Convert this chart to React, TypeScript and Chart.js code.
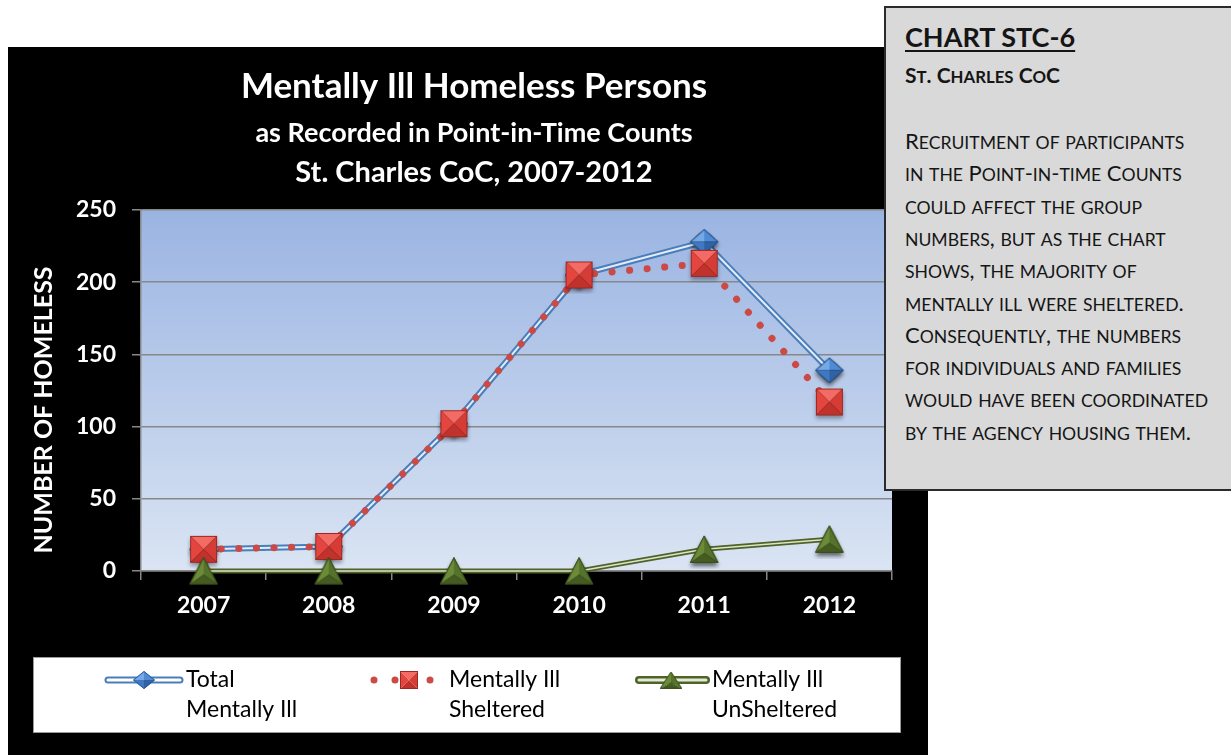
import React, { useEffect, useRef } from "react";
import { Chart, registerables } from "chart.js";

Chart.register(...registerables);

// ---------- DATA ----------
const categories = ["2007", "2008", "2009", "2010", "2011", "2012"];
const totalMentallyIll = [15, 17, 102, 205, 228, 139];
const shelteredMentallyIll = [15, 17, 102, 205, 213, 117];
const unshelteredMentallyIll = [0, 0, 0, 0, 15, 22];
const yMin = 0;
const yMax = 250;
const yStep = 50;

const titleLines = [
  "Mentally Ill Homeless Persons",
  "as Recorded in Point-in-Time Counts",
  "St. Charles CoC, 2007-2012",
];
const yAxisTitle = "NUMBER OF HOMELESS";
const legendTotal = ["Total", "Mentally Ill"];
const legendSheltered = ["Mentally Ill", "Sheltered"];
const legendUnsheltered = ["Mentally Ill", "UnSheltered"];

const boxHeading = "CHART STC-6";
const boxSubheading = "St. Charles CoC";
const boxBodyLines = [
  "Recruitment of participants",
  "in the Point-in-time Counts",
  "could affect the group",
  "numbers, but as the chart",
  "shows, the majority of",
  "mentally ill were sheltered.",
  "Consequently, the numbers",
  "for individuals and families",
  "would have been coordinated",
  "by the agency housing them.",
];

const FONT = "Lato, 'Open Sans', sans-serif";

// ---------- MARKER IMAGES ----------
type P = [number, number];
const PAD = 6;
function tri(g: CanvasRenderingContext2D, a: P, b: P, c: P, color: string) {
  g.beginPath();
  g.moveTo(a[0], a[1]);
  g.lineTo(b[0], b[1]);
  g.lineTo(c[0], c[1]);
  g.closePath();
  g.fillStyle = color;
  g.fill();
}

function withShadow(w: number, h: number, shadow: boolean, draw: (g: CanvasRenderingContext2D) => void, outline: (g: CanvasRenderingContext2D) => void) {
  const p = shadow ? PAD : 0;
  const c = document.createElement("canvas");
  c.width = w + 2 * p;
  c.height = h + 2 * p;
  const g = c.getContext("2d")!;
  g.translate(p, p);
  if (shadow) {
    g.save();
    g.shadowColor = "rgba(0,0,0,0.35)";
    g.shadowBlur = 4;
    g.shadowOffsetY = 3;
    g.fillStyle = "#000";
    outline(g);
    g.fill();
    g.restore();
  }
  draw(g);
  return c;
}

function makeSquare(s: number, shadow = true) {
  const m = s / 2;
  const outline = (g: CanvasRenderingContext2D) => {
    g.beginPath();
    g.rect(0, 0, s, s);
  };
  return withShadow(s, s, shadow, (g) => {
    tri(g, [0, 0], [s, 0], [m, m], "#f36b64");
    tri(g, [0, 0], [0, s], [m, m], "#e4463f");
    tri(g, [s, 0], [s, s], [m, m], "#d63c36");
    tri(g, [0, s], [s, s], [m, m], "#c2322d");
    g.strokeStyle = "#9a2824";
    g.lineWidth = 1;
    g.strokeRect(0.5, 0.5, s - 1, s - 1);
  }, outline);
}

function makeDiamond(w: number, h: number, shadow = true) {
  const mx = w / 2;
  const my = h / 2;
  const outline = (g: CanvasRenderingContext2D) => {
    g.beginPath();
    g.moveTo(0, my);
    g.lineTo(mx, 0);
    g.lineTo(w, my);
    g.lineTo(mx, h);
    g.closePath();
  };
  return withShadow(w, h, shadow, (g) => {
    tri(g, [0, my], [mx, 0], [mx, my], "#74a8e6");
    tri(g, [mx, 0], [w, my], [mx, my], "#4f8bd4");
    tri(g, [0, my], [mx, h], [mx, my], "#3f79c3");
    tri(g, [w, my], [mx, h], [mx, my], "#2f63a6");
    g.beginPath();
    g.moveTo(0.5, my);
    g.lineTo(mx, 0.5);
    g.lineTo(w - 0.5, my);
    g.lineTo(mx, h - 0.5);
    g.closePath();
    g.strokeStyle = "#2c5a94";
    g.lineWidth = 1;
    g.stroke();
  }, outline);
}

function makeTriangle(w: number, h: number, shadow = true) {
  const m = w / 2;
  const cy = h * 0.64;
  const outline = (g: CanvasRenderingContext2D) => {
    g.beginPath();
    g.moveTo(m, 0);
    g.lineTo(w, h);
    g.lineTo(0, h);
    g.closePath();
  };
  return withShadow(w, h, shadow, (g) => {
    tri(g, [m, 0], [0, h], [m, cy], "#6b8b39");
    tri(g, [m, 0], [w, h], [m, cy], "#56732b");
    tri(g, [0, h], [w, h], [m, cy], "#445b21");
    g.beginPath();
    g.moveTo(m, 0.5);
    g.lineTo(w - 0.5, h - 0.5);
    g.lineTo(0.5, h - 0.5);
    g.closePath();
    g.strokeStyle = "#3b4f1c";
    g.lineWidth = 1;
    g.stroke();
  }, outline);
}

// ---------- PLUGINS ----------
function makeDecorPlugin(imgs: { diamond: HTMLCanvasElement; square: HTMLCanvasElement; triangle: HTMLCanvasElement }) {
  return {
    id: "decor",
    beforeDraw(chart: any) {
      const ctx = chart.ctx as CanvasRenderingContext2D;
      const a = chart.chartArea;
      ctx.save();
      ctx.fillStyle = "#000";
      ctx.fillRect(8, 47, 920, 720);
      const grad = ctx.createLinearGradient(0, a.top, 0, a.bottom);
      grad.addColorStop(0, "#9ab4e2");
      grad.addColorStop(1, "#dae4f3");
      ctx.fillStyle = grad;
      ctx.fillRect(a.left, a.top, a.right - a.left, a.bottom - a.top);
      ctx.restore();
    },
    afterDraw(chart: any) {
      const ctx = chart.ctx as CanvasRenderingContext2D;
      ctx.save();
      // titles
      ctx.fillStyle = "#fff";
      ctx.textAlign = "center";
      ctx.textBaseline = "middle";
      const cx = 474;
      ctx.font = `bold 35px ${FONT}`;
      ctx.fillText(titleLines[0], cx, 87);
      ctx.font = `bold 27px ${FONT}`;
      ctx.fillText(titleLines[1], cx, 133);
      ctx.font = `bold 29px ${FONT}`;
      ctx.fillText(titleLines[2], cx, 173);

      // y axis title
      ctx.save();
      ctx.translate(44, 410);
      ctx.rotate(-Math.PI / 2);
      ctx.font = `bold 25px ${FONT}`;
      ctx.fillText(yAxisTitle, 0, 0);
      ctx.restore();

      // legend box
      ctx.fillStyle = "#fff";
      ctx.fillRect(33, 657, 868, 76);
      ctx.strokeStyle = "#9a9a9a";
      ctx.lineWidth = 1;
      ctx.strokeRect(33.5, 657.5, 867, 75);

      const ds = chart.data.datasets;
      const ly = 680;
      // total sample
      ctx.lineCap = "round";
      ctx.strokeStyle = ds[2].borderColor;
      ctx.lineWidth = 7;
      ctx.beginPath();
      ctx.moveTo(108, ly);
      ctx.lineTo(180, ly);
      ctx.stroke();
      ctx.strokeStyle = "#ffffff";
      ctx.lineWidth = 3;
      ctx.stroke();
      ctx.drawImage(imgs.diamond, 144 - imgs.diamond.width / 2, ly - imgs.diamond.height / 2);
      // sheltered sample
      ctx.fillStyle = ds[1].borderColor;
      [374, 395, 430].forEach((x) => {
        ctx.beginPath();
        ctx.arc(x, ly, 3.5, 0, Math.PI * 2);
        ctx.fill();
      });
      ctx.drawImage(imgs.square, 409 - imgs.square.width / 2, ly - imgs.square.height / 2);
      // unsheltered sample
      ctx.strokeStyle = ds[0].borderColor;
      ctx.lineWidth = 8;
      ctx.beginPath();
      ctx.moveTo(639, ly);
      ctx.lineTo(706, ly);
      ctx.stroke();
      ctx.strokeStyle = "#e4ead8";
      ctx.lineWidth = 3;
      ctx.stroke();
      ctx.drawImage(imgs.triangle, 671 - imgs.triangle.width / 2, ly - imgs.triangle.height / 2);

      // legend texts
      ctx.fillStyle = "#000";
      ctx.textAlign = "left";
      ctx.font = `23px ${FONT}`;
      const texts: [string[], number][] = [
        [legendTotal, 186],
        [legendSheltered, 449],
        [legendUnsheltered, 712],
      ];
      texts.forEach(([lines, x]) => {
        ctx.fillText(lines[0], x, 680);
        ctx.fillText(lines[1], x, 710);
      });
      ctx.restore();
    },
  };
}

const compoundPlugin = {
  id: "compound",
  afterDatasetDraw(chart: any, args: any) {
    const ds = chart.data.datasets[args.index];
    if (!ds.innerColor) return;
    const meta = args.meta;
    const ctx = chart.ctx as CanvasRenderingContext2D;
    ctx.save();
    ctx.beginPath();
    meta.data.forEach((pt: any, i: number) => {
      if (i === 0) ctx.moveTo(pt.x, pt.y);
      else ctx.lineTo(pt.x, pt.y);
    });
    ctx.strokeStyle = ds.innerColor;
    ctx.lineWidth = ds.innerWidth;
    ctx.lineJoin = "round";
    ctx.stroke();
    ctx.restore();
    meta.data.forEach((pt: any) => pt.draw(ctx, chart.chartArea));
  },
};

// small caps like a word processor: lowercase letters shown as capitals at 80%
function SmallCaps({ text, size }: { text: string; size: number }) {
  const parts: { t: string; small: boolean }[] = [];
  for (const ch of text) {
    const small = ch !== ch.toUpperCase();
    const last = parts[parts.length - 1];
    if (last && last.small === small) last.t += ch;
    else parts.push({ t: ch, small });
  }
  return (
    <>
      {parts.map((p, i) =>
        p.small ? (
          <span key={i} style={{ fontSize: size * 0.8, lineHeight: 1 }}>
            {p.t.toUpperCase()}
          </span>
        ) : (
          <span key={i} style={{ lineHeight: 1 }}>{p.t}</span>
        )
      )}
    </>
  );
}

export default function App() {
  const canvasRef = useRef<HTMLCanvasElement | null>(null);

  useEffect(() => {
    const canvas = canvasRef.current;
    if (!canvas) return;
    const diamond = makeDiamond(28, 25);
    const square = makeSquare(27);
    const triangle = makeTriangle(28, 27);
    const legendImgs = {
      diamond: makeDiamond(22, 18, false),
      square: makeSquare(18, false),
      triangle: makeTriangle(22, 17, false),
    };
    const tickFont = { family: FONT, size: 23, weight: "bold" as const };

    const chart: any = new Chart(canvas, {
      type: "line",
      data: {
        labels: categories,
        datasets: [
          {
            label: "Mentally Ill UnSheltered",
            data: unshelteredMentallyIll,
            borderColor: "#4f6228",
            borderWidth: 5,
            innerColor: "#dbe5c6",
            innerWidth: 1.5,
            pointStyle: triangle,
            pointRadius: 14,
            order: 1,
            clip: false,
            tension: 0,
          } as any,
          {
            label: "Mentally Ill Sheltered",
            data: shelteredMentallyIll,
            borderColor: "#cc4a45",
            borderWidth: 7,
            borderDash: [0.1, 17.5],
            borderCapStyle: "round",
            pointStyle: square,
            pointRadius: 14,
            order: 2,
            clip: false,
            tension: 0,
          } as any,
          {
            label: "Total Mentally Ill",
            data: totalMentallyIll,
            borderColor: "#4a7ebb",
            borderWidth: 6,
            innerColor: "#e3ecf8",
            innerWidth: 2,
            pointStyle: diamond,
            pointRadius: 14,
            order: 3,
            clip: false,
            tension: 0,
          } as any,
        ],
      },
      options: {
        responsive: false,
        animation: false,
        events: [],
        layout: { padding: { left: 0, right: 339, top: 210, bottom: 124 } },
        plugins: {
          legend: { display: false },
          tooltip: { enabled: false },
          title: { display: false },
        },
        scales: {
          x: {
            type: "category",
            offset: true,
            grid: {
              display: true,
              drawOnChartArea: false,
              drawTicks: true,
              tickLength: 9,
              color: "#888888",
              lineWidth: 1.5,
              offset: true,
            },
            border: { display: true, color: "#888888", width: 1.5 },
            ticks: { color: "#ffffff", font: tickFont, padding: 12, maxRotation: 0 },
            afterFit: (s: any) => {
              s.height = 60;
            },
          },
          y: {
            min: yMin,
            max: yMax,
            ticks: { stepSize: yStep, color: "#ffffff", font: tickFont, padding: 16 },
            grid: { color: "#888888", lineWidth: 1.5, tickLength: 9 },
            border: { display: true, color: "#888888", width: 1.5 },
            afterFit: (s: any) => {
              s.width = 141;
            },
          },
        },
      } as any,
      plugins: [makeDecorPlugin(legendImgs), compoundPlugin],
    });
    return () => chart.destroy();
  }, []);

  const bodySize = 22;
  const pitch = 32.3;
  return (
    <>
      <canvas
        ref={canvasRef}
        width={1231}
        height={755}
        style={{ position: "fixed", left: 0, top: 0, display: "block" }}
      />
      <div
        style={{
          position: "fixed",
          left: 884,
          top: 6,
          width: 380,
          height: 485,
          boxSizing: "border-box",
          background: "#d9d9d9",
          border: "2px solid #2b2b2b",
          fontFamily: FONT,
          color: "#151515",
        }}
      >
        <div
          style={{
            position: "absolute",
            left: 19,
            top: 12,
            fontSize: 27,
            fontWeight: "bold",
            textDecoration: "underline",
            textDecorationThickness: 2,
            textUnderlineOffset: 3,
            whiteSpace: "nowrap",
            lineHeight: "34px",
          }}
        >
          {boxHeading}
        </div>
        <div
          style={{
            position: "absolute",
            left: 19,
            top: 56,
            fontSize: 21,
            fontWeight: "bold",
            whiteSpace: "nowrap",
            lineHeight: 1,
          }}
        >
          <SmallCaps text={boxSubheading} size={21} />
        </div>
        {boxBodyLines.map((l, i) => (
          <div
            key={i}
            style={{
              position: "absolute",
              left: 19,
              top: 122 + i * pitch,
              fontSize: bodySize,
              lineHeight: 1,
              whiteSpace: "nowrap",
            }}
          >
            <SmallCaps text={l} size={bodySize} />
          </div>
        ))}
      </div>
    </>
  );
}
